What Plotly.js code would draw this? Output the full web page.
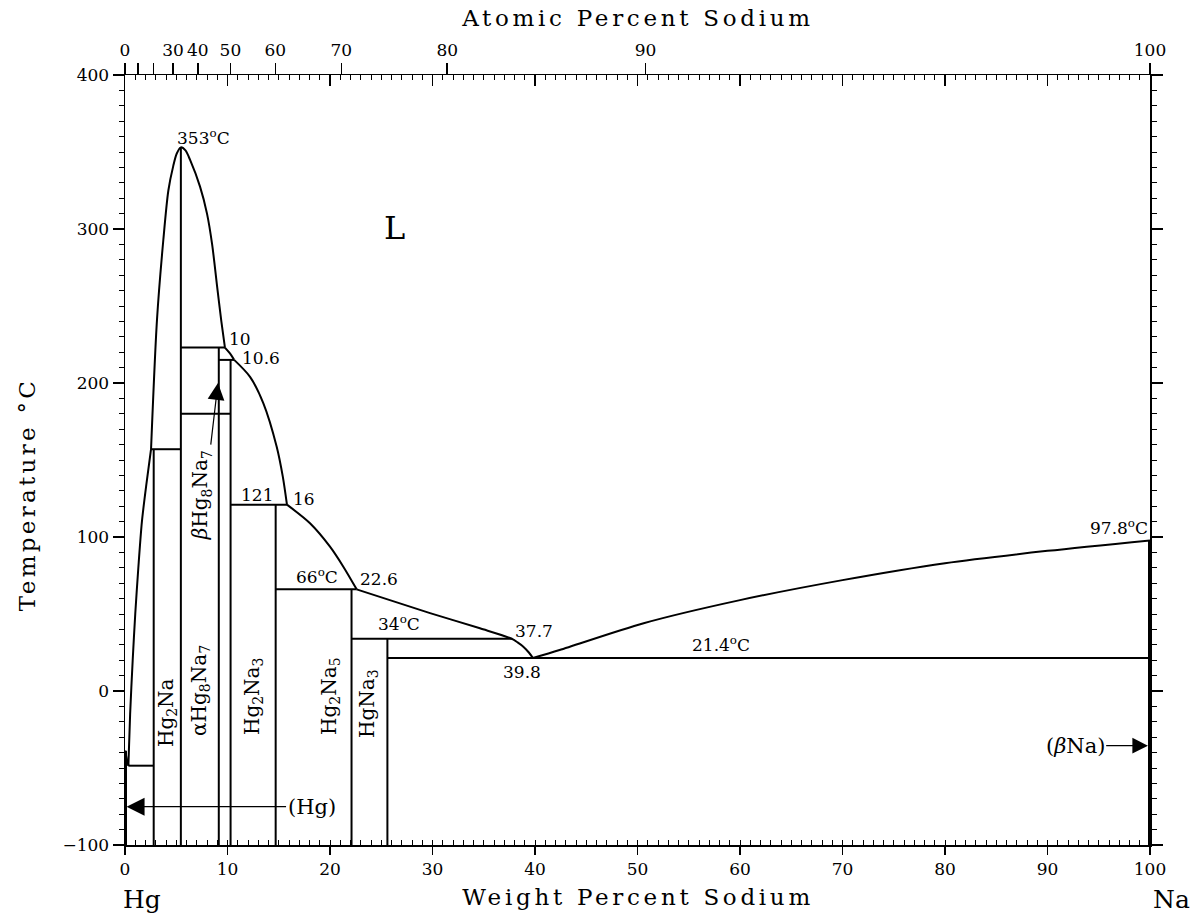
<!DOCTYPE html>
<html>
<head>
<meta charset="utf-8">
<script src="https://cdn.plot.ly/plotly-3.0.1.min.js"></script>
<style>
html,body{margin:0;padding:0;background:#fff;}
#chart{width:1191px;height:919px;}
/* typewriter-like spacing for the three axis titles (annotations 0,1,2) */
#chart g.annotation[data-index="0"] text,
#chart g.annotation[data-index="1"] text { letter-spacing: 3.7px; }
#chart g.annotation[data-index="2"] text { letter-spacing: 3.3px; }
</style>
</head>
<body>
<div id="chart"></div>
<script>
// ---------------- data (weight percent Na, temperature °C) ----------------
const massHg = 200.59, massNa = 22.99;

// line compounds: composition (wt% Na) and the temperature at which each ends
const compoundName = ['Hg4Na', 'Hg2Na', 'Hg8Na7', 'HgNa', 'Hg2Na3', 'Hg2Na5', 'HgNa3'];
const compoundWt   = [2.8, 5.45, 9.15, 10.3, 14.7, 22.1, 25.6];
const compoundTopT = [157, 353, 223, 215, 121, 66, 34];

// invariant (horizontal) lines
const invT    = [-48.5, 157, 223, 215, 180, 121, 66, 34, 21.4];
const invFrom = [0.33, 2.54, 5.45, 9.15, 5.45, 10.3, 14.7, 22.1, 25.6];
const invTo   = [2.8, 5.45, 9.75, 10.65, 10.3, 15.8, 22.6, 37.8, 100];

// pure elements
const hgWt = 0, hgLineT = [-100, -38.8];
const naWt = 100, naLineT = [-100, 97.8];

// liquidus segments
const liqAX = [0, 0.33];
const liqAT = [-38.8, -48.5];
const liqBX = [0.33, 0.5, 0.75, 1.0, 1.3, 1.65, 2.1, 2.54];
const liqBT = [-48.5, -15, 20, 50, 80, 110, 135, 157];
const liqCX = [2.54, 3.12, 3.74, 4.23, 4.71, 5.05, 5.45, 5.9, 6.34, 7.32, 8.0, 8.5, 9.0, 9.4, 9.75];
const liqCT = [157, 241, 293, 325, 341, 349, 353, 351, 345, 327.5, 310, 290, 262, 240, 223];
const liqDX = [9.75, 10.2, 10.65];
const liqDT = [223, 219.5, 215];
const liqEX = [10.65, 12.2, 13.5, 14.8, 15.4, 15.8];
const liqET = [215, 204, 186.8, 158.6, 139, 121];
const liqFX = [15.8, 18.05, 20, 21.3, 22.6];
const liqFT = [121, 108.9, 93.7, 80.7, 66];
const liqGX = [22.6, 29.76, 34.63, 37.7, 38.3, 38.86, 39.4, 39.8];
const liqGT = [66, 50.6, 40.7, 34, 31.6, 28.8, 25, 21.4];
const liqHX = [39.8, 42.4, 50.6, 60, 70, 80, 90, 100];
const liqHT = [21.4, 26.6, 44, 59, 72, 83, 91, 97.8];

// axis ticks
const wtTicks = [0, 10, 20, 30, 40, 50, 60, 70, 80, 90, 100];
const atTicks = [0, 10, 20, 30, 40, 50, 60, 70, 80, 90, 100];
const atTickText = ['0', '', '', '30', '40', '50', '60', '70', '80', '90', '100'];
const tTicks = [-100, 0, 100, 200, 300, 400];

// text labels
const numLabels = [
  {t: '353<sup>o</sup>C', x: 7.66, y: 359.5, xa: 'center'},
  {t: '10', x: 9.98, y: 228.6, xa: 'left'},
  {t: '10.6', x: 11.2, y: 216, xa: 'left'},
  {t: '121', x: 12.85, y: 127, xa: 'center'},
  {t: '16', x: 16.2, y: 125, xa: 'left'},
  {t: '66<sup>o</sup>C', x: 18.7, y: 74.5, xa: 'center'},
  {t: '22.6', x: 22.75, y: 72.7, xa: 'left'},
  {t: '34<sup>o</sup>C', x: 26.73, y: 44, xa: 'center'},
  {t: '37.7', x: 39.9, y: 39, xa: 'center'},
  {t: '39.8', x: 38.7, y: 12.3, xa: 'center'},
  {t: '21.4<sup>o</sup>C', x: 58.1, y: 30.3, xa: 'center'},
  {t: '97.8<sup>o</sup>C', x: 100, y: 106.3, xa: 'right'}
];
const phaseLabels = [
  {t: 'Hg<sub>2</sub>Na', x: 4.1, y: -14.3},
  {t: 'αHg<sub>8</sub>Na<sub>7</sub>', x: 7.3, y: 0.6},
  {t: 'Hg<sub>2</sub>Na<sub>3</sub>', x: 12.5, y: -3.2},
  {t: 'Hg<sub>2</sub>Na<sub>5</sub>', x: 20.0, y: -3.2},
  {t: 'HgNa<sub>3</sub>', x: 23.7, y: -7.8},
  {t: '<i>β</i>Hg<sub>8</sub>Na<sub>7</sub>', x: 7.5, y: 127}
];

// ---------------- build ----------------
function atToWt(a) { return a * massNa / (a * massNa + (100 - a) * massHg) * 100; }

const BLACK = '#000';
const traces = [];
function addLine(xs, ys, w, spline) {
  traces.push({
    type: 'scatter', mode: 'lines', x: xs, y: ys, xaxis: 'x', yaxis: 'y',
    line: {color: BLACK, width: w, shape: spline ? 'spline' : 'linear', smoothing: 0.8},
    hoverinfo: 'skip', showlegend: false, cliponaxis: false
  });
}
compoundWt.forEach((w, i) => addLine([w, w], [-100, compoundTopT[i]], 2, false));
invT.forEach((t, i) => addLine([invFrom[i], invTo[i]], [t, t], 2, false));
addLine([hgWt, hgWt], hgLineT, 4, false);
addLine([naWt, naWt], naLineT, 4, false);
addLine(liqAX, liqAT, 2, false);
addLine(liqBX, liqBT, 2, true);
addLine(liqCX, liqCT, 2, true);
addLine(liqDX, liqDT, 2, true);
addLine(liqEX, liqET, 2, true);
addLine(liqFX, liqFT, 2, true);
addLine(liqGX, liqGT, 2, true);
addLine(liqHX, liqHT, 2, true);
// dummy traces so the overlay axes are drawn
traces.push({type: 'scatter', mode: 'none', x: [0, 100], y: [-100, 400], xaxis: 'x2', yaxis: 'y', hoverinfo: 'skip', showlegend: false});
traces.push({type: 'scatter', mode: 'none', x: [0, 100], y: [-100, 400], xaxis: 'x3', yaxis: 'y', hoverinfo: 'skip', showlegend: false});

const SERIF = 'DejaVu Serif';
const annotations = [];
// axis titles first (indices 0..2 get letter spacing from the stylesheet)
annotations.push({x: 0.5, y: 1.074, xref: 'paper', yref: 'paper', text: 'Atomic Percent Sodium', showarrow: false,
  xanchor: 'center', yanchor: 'middle', font: {family: SERIF, size: 23, color: BLACK}});
annotations.push({x: 0.5, y: -0.0675, xref: 'paper', yref: 'paper', text: 'Weight Percent Sodium', showarrow: false,
  xanchor: 'center', yanchor: 'middle', font: {family: SERIF, size: 23, color: BLACK}});
annotations.push({x: -0.0956, y: 0.4545, xref: 'paper', yref: 'paper', text: 'Temperature °C', showarrow: false,
  textangle: -90, xanchor: 'center', yanchor: 'middle', font: {family: SERIF, size: 23, color: BLACK}});

numLabels.forEach(l => annotations.push({
  x: l.x, y: l.y, xref: 'x', yref: 'y', text: l.t, showarrow: false,
  xanchor: l.xa, yanchor: 'middle', font: {family: SERIF, size: 17, color: BLACK}
}));
phaseLabels.forEach(l => annotations.push({
  x: l.x, y: l.y, xref: 'x', yref: 'y', text: l.t, showarrow: false, textangle: -90,
  xanchor: 'center', yanchor: 'middle', font: {family: SERIF, size: 20, color: BLACK}
}));
annotations.push({x: 26.3, y: 300.6, xref: 'x', yref: 'y', text: 'L', showarrow: false,
  font: {family: SERIF, size: 32, color: BLACK}});
// arrows
annotations.push({x: 0.15, y: -75.1, ax: 18.2, ay: -75.1, xref: 'x', yref: 'y', axref: 'x', ayref: 'y',
  text: '(Hg)', showarrow: true, arrowhead: 2, arrowsize: 3, arrowwidth: 1.2, arrowcolor: BLACK,
  font: {family: SERIF, size: 21, color: BLACK}});
annotations.push({x: 99.8, y: -35.5, ax: 92.7, ay: -35.5, xref: 'x', yref: 'y', axref: 'x', ayref: 'y',
  text: '(<i>β</i>Na)', showarrow: true, arrowhead: 2, arrowsize: 2.6, arrowwidth: 1.2, arrowcolor: BLACK,
  font: {family: SERIF, size: 21, color: BLACK}});
annotations.push({x: 9.07, y: 200, ax: 8.35, ay: 159, xref: 'x', yref: 'y', axref: 'x', ayref: 'y',
  text: '', showarrow: true, arrowhead: 2, arrowsize: 2.8, arrowwidth: 1.2, arrowcolor: BLACK});
// element names under the axis ends
annotations.push({x: 0.0166, y: -0.0714, xref: 'paper', yref: 'paper', text: 'Hg', showarrow: false,
  xanchor: 'center', yanchor: 'middle', font: {family: SERIF, size: 25, color: BLACK}});
annotations.push({x: 1.0205, y: -0.0714, xref: 'paper', yref: 'paper', text: 'Na', showarrow: false,
  xanchor: 'center', yanchor: 'middle', font: {family: SERIF, size: 25, color: BLACK}});

const tickFont = {family: SERIF, size: 17, color: BLACK};
const layout = {
  width: 1191, height: 919,
  margin: {l: 125, r: 41, t: 75, b: 74, pad: 0},
  paper_bgcolor: '#fff', plot_bgcolor: '#fff',
  showlegend: false,
  xaxis: {
    range: [0, 100], tickmode: 'array', tickvals: wtTicks, ticktext: wtTicks.map(String),
    ticks: 'outside', ticklen: 8, tickwidth: 1.5, tickcolor: BLACK,
    minor: {dtick: 1, tick0: 0, ticks: 'inside', ticklen: 5, tickwidth: 1, tickcolor: BLACK, showgrid: false},
    showline: true, linecolor: BLACK, linewidth: 1.5, showgrid: false, zeroline: false,
    tickfont: tickFont, fixedrange: true
  },
  xaxis2: {
    overlaying: 'x', side: 'top', range: [0, 100], tickmode: 'array',
    tickvals: atTicks.map(atToWt), ticktext: atTickText,
    ticks: 'outside', ticklen: 11, tickwidth: 1.5, tickcolor: BLACK,
    showline: false, showgrid: false, zeroline: false, tickfont: tickFont
  },
  xaxis3: {
    overlaying: 'x', side: 'top', range: [0, 100], tickmode: 'array', tickvals: wtTicks,
    showticklabels: false, ticks: 'inside', ticklen: 11, tickwidth: 1.5, tickcolor: BLACK,
    minor: {dtick: 1, tick0: 0, ticks: 'inside', ticklen: 5, tickwidth: 1, tickcolor: BLACK, showgrid: false},
    showline: true, linecolor: BLACK, linewidth: 1.5, showgrid: false, zeroline: false
  },
  yaxis: {
    range: [-100, 400], tickmode: 'array', tickvals: tTicks, ticktext: tTicks.map(v => v < 0 ? '\u2212' + Math.abs(v) : String(v)),
    ticks: 'outside', ticklen: 11, tickwidth: 1.5, tickcolor: BLACK,
    minor: {dtick: 10, tick0: 0, ticks: 'outside', ticklen: 5, tickwidth: 1, tickcolor: BLACK, showgrid: false},
    showline: true, linecolor: BLACK, linewidth: 1.5, mirror: 'ticks',
    showgrid: false, zeroline: false, tickfont: tickFont
  },
  annotations: annotations
};

Plotly.newPlot('chart', traces, layout, {displayModeBar: false, staticPlot: true});
</script>
</body>
</html>
